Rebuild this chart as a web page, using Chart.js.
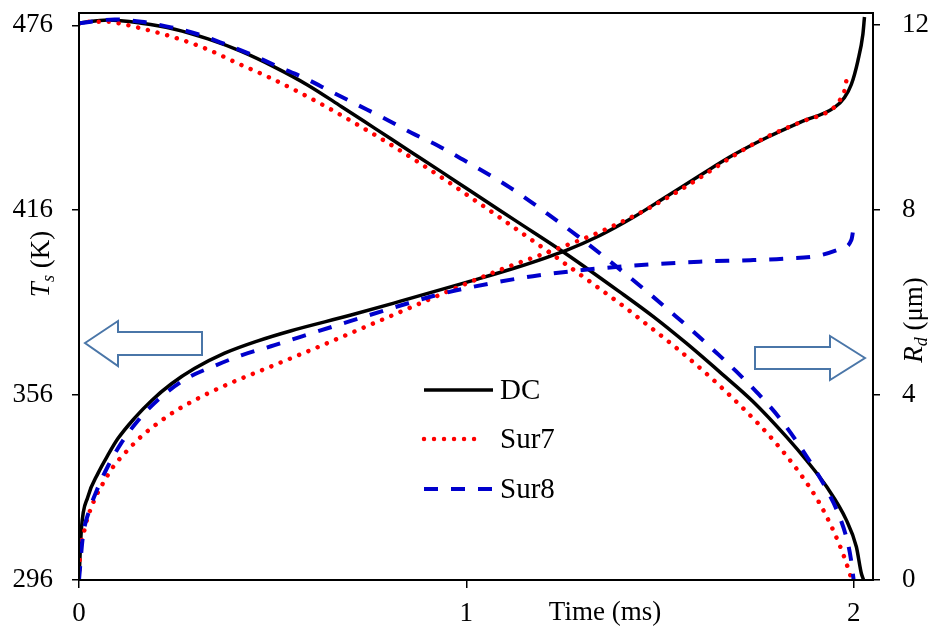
<!DOCTYPE html>
<html>
<head>
<meta charset="utf-8">
<script src="https://cdn.jsdelivr.net/npm/chart.js@4"></script>
<style>
  body { margin: 0; background: #fff; }
  #wrap { width: 932px; height: 630px; }
</style>
</head>
<body>
<div id="wrap"><canvas id="chart" width="932" height="630"></canvas></div>
<script>
// surface temperature Ts (K), left axis, vs time (ms)
const dcTimeT = [0, 0.006, 0.023, 0.049, 0.075, 0.100, 0.144, 0.187, 0.238, 0.298, 0.376, 0.462, 0.548, 0.70, 0.828, 1.0, 1.129, 1.258, 1.345, 1.43, 1.515, 1.602, 1.689, 1.776, 1.863, 1.95, 1.976, 1.994, 2.011, 2.024, 2.028];
const dcTs = [296, 312.2, 323.0, 330.6, 336.6, 341.8, 348.6, 354.2, 359.6, 364.6, 369.6, 373.6, 376.9, 381.9, 386.4, 392.6, 397.4, 403.0, 407.8, 413.6, 420.3, 427.2, 433.9, 439.6, 444.6, 449.3, 452.5, 456.8, 464.5, 473.2, 478.7];

const sur7TimeT = [0, 0.002, 0.014, 0.036, 0.062, 0.088, 0.118, 0.161, 0.212, 0.255, 0.324, 0.393, 0.488, 0.604, 0.72, 0.837, 0.957, 1.086, 1.224, 1.344, 1.473, 1.594, 1.689, 1.776, 1.863, 1.95, 1.965, 1.976, 1.981];
const sur7Ts = [296, 302.5, 312.2, 320.9, 327.4, 332.7, 337.1, 342.6, 347.7, 351.3, 356.0, 360.0, 364.9, 370.9, 377.1, 383.4, 389.9, 396.6, 403.0, 408.9, 416.8, 425.8, 433.6, 439.8, 444.6, 449.4, 451.8, 454.6, 457.9];

const sur8TimeT = [0, 0.01, 0.027, 0.049, 0.075, 0.109, 0.152, 0.212, 0.281, 0.350, 0.419, 0.505, 0.574, 0.70, 0.828, 0.931, 1.060, 1.172, 1.293, 1.43, 1.602, 1.733, 1.82, 1.907, 1.968, 1.994, 2.002];
const sur8Ts = [296, 310, 318.7, 326.0, 333.0, 340.4, 347.7, 355.4, 361.6, 365.5, 368.9, 372.2, 375.0, 380.0, 385.0, 388.7, 392.2, 394.6, 396.5, 398.0, 399.3, 399.8, 400.3, 401.2, 403.6, 406.3, 412.5];

// droplet radius Rd (um), right axis, vs time (ms)
const dcTimeR = [0, 0.075, 0.161, 0.247, 0.333, 0.419, 0.505, 0.591, 0.677, 0.763, 0.86, 0.935, 1.0, 1.129, 1.258, 1.396, 1.482, 1.568, 1.654, 1.74, 1.826, 1.878, 1.93, 1.981, 2.007, 2.020, 2.026];
const dcRd = [12.04, 12.11, 12.04, 11.91, 11.70, 11.43, 11.09, 10.70, 10.24, 9.77, 9.24, 8.83, 8.47, 7.76, 7.05, 6.23, 5.70, 5.12, 4.50, 3.86, 3.10, 2.59, 2.02, 1.30, 0.72, 0.14, 0];

const sur7TimeR = [0, 0.015, 0.075, 0.118, 0.169, 0.247, 0.333, 0.410, 0.488, 0.565, 0.643, 0.720, 0.798, 0.875, 0.944, 1.017, 1.086, 1.215, 1.344, 1.409, 1.447, 1.542, 1.628, 1.710, 1.792, 1.861, 1.912, 1.947, 1.972, 1.990, 1.995];
const sur7Rd = [12.03, 12.07, 12.07, 12.01, 11.91, 11.73, 11.47, 11.17, 10.88, 10.56, 10.21, 9.84, 9.45, 9.04, 8.66, 8.24, 7.84, 7.08, 6.30, 5.90, 5.65, 5.02, 4.40, 3.75, 3.03, 2.31, 1.66, 1.08, 0.58, 0.14, 0];

const sur8TimeR = [0, 0.092, 0.161, 0.238, 0.307, 0.376, 0.445, 0.514, 0.583, 0.651, 0.72, 0.789, 0.858, 0.927, 0.991, 1.112, 1.232, 1.301, 1.362, 1.473, 1.533, 1.585, 1.645, 1.697, 1.749, 1.809, 1.878, 1.930, 1.964, 1.985, 1.993, 2.0];
const sur8Rd = [12.04, 12.12, 12.07, 11.95, 11.80, 11.59, 11.36, 11.10, 10.85, 10.56, 10.27, 9.98, 9.67, 9.39, 9.09, 8.49, 7.78, 7.35, 6.95, 6.19, 5.76, 5.38, 4.92, 4.51, 4.07, 3.50, 2.68, 1.96, 1.36, 0.80, 0.45, 0];

const seriesNames = ['DC', 'Sur7', 'Sur8'];
const xTicks = [0, 1, 2];
const tsTicks = [296, 356, 416, 476];
const rdTicks = [0, 4, 8, 12];

const FONT = '"Liberation Serif", "Times New Roman", serif';

// line looks, shared by the curves and the legend
const styles = [
  { color: '#000000', width: 3.5, dash: [], cap: 'butt' },
  { color: '#ff0000', width: 4.5, dash: [0.01, 10], cap: 'round' },
  { color: '#0000cc', width: 4, dash: [14, 13], cap: 'butt' }
];

function pts(xs, ys) {
  return xs.map((x, i) => ({ x: x, y: ys[i] }));
}

function makeSet(idx, data, axis) {
  const s = styles[idx];
  return {
    label: seriesNames[idx],
    data: data,
    yAxisID: axis,
    borderColor: s.color,
    borderWidth: s.width,
    borderDash: s.dash,
    borderCapStyle: s.cap,
    pointRadius: 0,
    fill: false,
    cubicInterpolationMode: 'monotone',
    order: 3 - idx
  };
}

function richText(ctx, segs, cx, cy, size, rot) {
  ctx.save();
  ctx.translate(cx, cy);
  ctx.rotate(rot);
  ctx.textBaseline = 'alphabetic';
  ctx.textAlign = 'left';
  ctx.fillStyle = '#000';
  const parts = segs.map(s => {
    const sz = s.sub ? Math.round(size * 0.68) : size;
    const f = (s.it ? 'italic ' : '') + sz + 'px ' + FONT;
    ctx.font = f;
    return { s: s, f: f, w: ctx.measureText(s.t).width };
  });
  let x = -parts.reduce((a, p) => a + p.w, 0) / 2;
  parts.forEach(p => {
    ctx.font = p.f;
    ctx.fillText(p.s.t, x, size * 0.33 + (p.s.sub ? size * 0.2 : 0));
    x += p.w;
  });
  ctx.restore();
}

function arrow(ctx, pts) {
  ctx.save();
  ctx.beginPath();
  pts.forEach((p, i) => i ? ctx.lineTo(p[0], p[1]) : ctx.moveTo(p[0], p[1]));
  ctx.closePath();
  ctx.fillStyle = '#fff';
  ctx.fill();
  ctx.strokeStyle = '#4a76a8';
  ctx.lineWidth = 2;
  ctx.stroke();
  ctx.restore();
}

const extras = {
  id: 'extras',
  afterDraw(chart) {
    const ctx = chart.ctx;
    const a = chart.chartArea;

    // frame
    ctx.save();
    ctx.strokeStyle = '#000';
    ctx.lineWidth = 2;
    ctx.strokeRect(a.left, a.top, a.right - a.left, a.bottom - a.top);
    ctx.restore();

    // arrows pointing to each axis
    arrow(ctx, [[85, 343], [118, 321], [118, 332], [202, 332], [202, 355], [118, 355], [118, 366]]);
    arrow(ctx, [[865, 358], [830, 336], [830, 347], [755, 347], [755, 369], [830, 369], [830, 380]]);

    // axis titles
    richText(ctx, [{ t: 'T', it: true }, { t: 's', it: true, sub: true }, { t: ' (K)' }], 40, 264, 27, -Math.PI / 2);
    richText(ctx, [{ t: 'R', it: true }, { t: 'd', it: true, sub: true }, { t: ' (\u03bcm)' }], 913, 320, 27, -Math.PI / 2);

    ctx.save();
    ctx.fillStyle = '#000';
    ctx.font = '27px ' + FONT;
    ctx.textAlign = 'center';
    ctx.textBaseline = 'middle';
    ctx.fillText('Time (ms)', 605, 613);
    ctx.restore();

    // legend
    const rows = [390, 439, 489];
    seriesNames.forEach((name, i) => {
      const s = styles[i];
      ctx.save();
      ctx.strokeStyle = s.color;
      ctx.lineWidth = s.width;
      ctx.setLineDash(s.dash);
      ctx.lineCap = s.cap;
      ctx.beginPath();
      ctx.moveTo(424, rows[i]);
      ctx.lineTo(i === 1 ? 484 : 493, rows[i]);
      ctx.stroke();
      ctx.setLineDash([]);
      ctx.fillStyle = '#000';
      ctx.font = '29px ' + FONT;
      ctx.textAlign = 'left';
      ctx.textBaseline = 'middle';
      ctx.fillText(name, 500, rows[i] + 1);
      ctx.restore();
    });
  }
};

const tickFont = { family: FONT, size: 27 };

function fitY(w) {
  return s => { s.width = w; s.paddingTop = 0; s.paddingBottom = 0; };
}

new Chart(document.getElementById('chart'), {
  type: 'line',
  data: {
    datasets: [
      makeSet(0, pts(dcTimeT, dcTs), 'yT'),
      makeSet(0, pts(dcTimeR, dcRd), 'yR'),
      makeSet(1, pts(sur7TimeT, sur7Ts), 'yT'),
      makeSet(1, pts(sur7TimeR, sur7Rd), 'yR'),
      makeSet(2, pts(sur8TimeT, sur8Ts), 'yT'),
      makeSet(2, pts(sur8TimeR, sur8Rd), 'yR')
    ]
  },
  options: {
    responsive: false,
    animation: false,
    devicePixelRatio: 1,
    layout: { padding: { top: 13, left: 0, right: 0, bottom: 0 } },
    plugins: { legend: { display: false }, tooltip: { enabled: false } },
    scales: {
      x: {
        type: 'linear',
        min: 0,
        max: 2.05,
        afterBuildTicks: s => { s.ticks = xTicks.map(v => ({ value: v })); },
        afterFit: s => { s.height = 50; s.paddingLeft = 0; s.paddingRight = 0; },
        grid: { drawOnChartArea: false, drawTicks: true, tickLength: 8, color: '#000', lineWidth: 1.5 },
        border: { display: true, color: '#000', width: 2 },
        ticks: { font: tickFont, color: '#000', padding: 10, maxRotation: 0, autoSkip: false }
      },
      yT: {
        type: 'linear',
        position: 'left',
        min: 296,
        max: 480,
        afterBuildTicks: s => { s.ticks = tsTicks.map(v => ({ value: v })); },
        afterFit: fitY(79),
        grid: { drawOnChartArea: false, drawTicks: true, tickLength: 7, color: '#000', lineWidth: 1.5 },
        border: { display: true, color: '#000', width: 2 },
        ticks: { font: tickFont, color: '#000', padding: 19 }
      },
      yR: {
        type: 'linear',
        position: 'right',
        min: 0,
        max: 12.26,
        afterBuildTicks: s => { s.ticks = rdTicks.map(v => ({ value: v })); },
        afterFit: fitY(59),
        grid: { drawOnChartArea: false, drawTicks: true, tickLength: 7, color: '#000', lineWidth: 1.5 },
        border: { display: true, color: '#000', width: 2 },
        ticks: { font: tickFont, color: '#000', padding: 22 }
      }
    }
  },
  plugins: [extras]
});
</script>
</body>
</html>
